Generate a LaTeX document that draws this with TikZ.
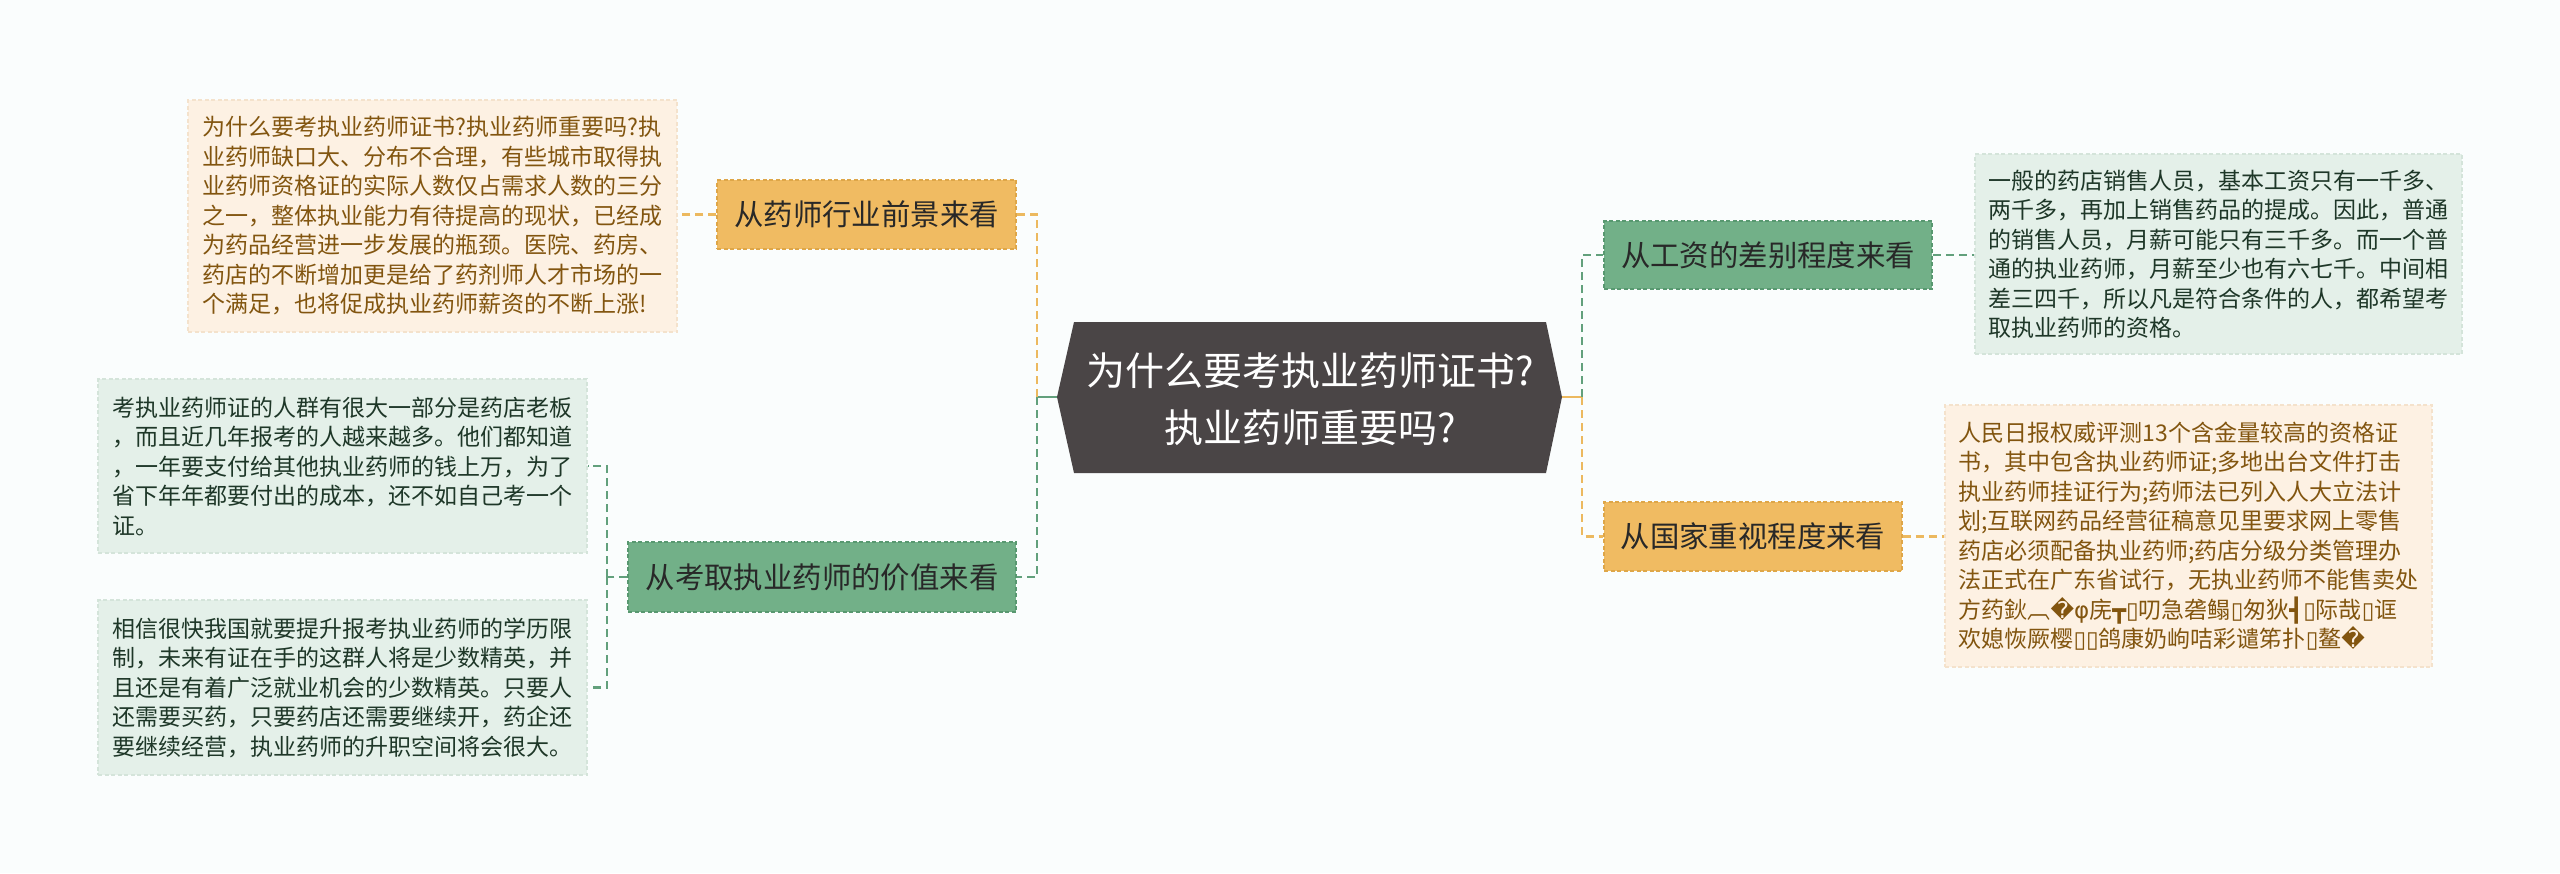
\documentclass[tikz,border=0pt]{standalone}
\usepackage{fontspec}
\newfontfamily\cjk{Noto Sans CJK SC}
\newfontfamily\dvs{DejaVu Sans}
\definecolor{bgc}{RGB}{250,253,253}
\definecolor{centerc}{RGB}{74,69,70}
\definecolor{orfill}{RGB}{240,187,98}
\definecolor{ordraw}{RGB}{222,166,72}
\definecolor{grfill}{RGB}{114,176,136}
\definecolor{grdraw}{RGB}{88,152,112}
\definecolor{orline}{RGB}{236,185,95}
\definecolor{grline}{RGB}{98,160,124}
\definecolor{orleaf}{RGB}{253,241,227}
\definecolor{orleafd}{RGB}{244,226,204}
\definecolor{grleaf}{RGB}{228,240,233}
\definecolor{grleafd}{RGB}{212,228,218}
\definecolor{ortext}{RGB}{130,85,15}
\definecolor{grtext}{RGB}{30,55,40}
\definecolor{brtext}{RGB}{40,40,40}
\begin{document}
\begin{tikzpicture}[x=1pt,y=-1pt,
  branchbox/.style={rectangle, draw, line width=1.5pt, dash pattern=on 4pt off 2.5pt,
    inner sep=0pt, text=brtext, font=\cjk\fontsize{29.4pt}{35pt}\selectfont},
  orbranch/.style={branchbox, fill=orfill, draw=ordraw},
  grbranch/.style={branchbox, fill=grfill, draw=grdraw},
  leafbox/.style={rectangle, draw, line width=1.2pt, dash pattern=on 4pt off 2.5pt,
    inner sep=0pt, align=left, font=\cjk\fontsize{23pt}{29.5pt}\selectfont},
  orleafbox/.style={leafbox, fill=orleaf, draw=orleafd, text=ortext},
  grleafbox/.style={leafbox, fill=grleaf, draw=grleafd, text=grtext},
  olink/.style={draw=orline, line width=2.2pt, dash pattern=on 8pt off 5pt},
  glink/.style={draw=grline, line width=2.2pt, dash pattern=on 8pt off 5pt},
  osolid/.style={draw=orline, line width=2.8pt},
  gsolid/.style={draw=grline, line width=2.8pt}
]
\useasboundingbox (0,0) rectangle (2560,873);
\fill[bgc] (0,0) rectangle (2560,873);

% central topic
\fill[centerc] (1057,397) -- (1074,322) -- (1546,322) -- (1562,397) -- (1546,473) -- (1074,473) -- cycle;
\node[text=white, align=center, font=\cjk\fontsize{39pt}{57pt}\selectfont] (center) at (1310,399)
  {为什么要考执业药师证书?\\执业药师重要吗?};
\coordinate (cL) at (1057,397);
\coordinate (cR) at (1562,397);
\coordinate (sL) at (1037,397);
\coordinate (sR) at (1582,397);

% branches
\node[orbranch, minimum width=299pt, minimum height=69pt] (b1) at (866.5,214.5) {从药师行业前景来看};
\node[grbranch, minimum width=388pt, minimum height=70pt] (b2) at (822,577) {从考取执业药师的价值来看};
\node[grbranch, minimum width=328pt, minimum height=68pt] (b3) at (1768,255) {从工资的差别程度来看};
\node[orbranch, minimum width=298pt, minimum height=69pt] (b4) at (1753,536.5) {从国家重视程度来看};

% leaves
\node[orleafbox, minimum width=489pt, minimum height=232pt] (l1) at (432.5,216) {%
为什么要考执业药师证书?执业药师重要吗?执\\
业药师缺口大、分布不合理，有些城市取得执\\
业药师资格证的实际人数仅占需求人数的三分\\
之一，整体执业能力有待提高的现状，已经成\\
为药品经营进一步发展的瓶颈。医院、药房、\\
药店的不断增加更是给了药剂师人才市场的一\\
个满足，也将促成执业药师薪资的不断上涨!};

\node[grleafbox, minimum width=489pt, minimum height=174pt] (l2) at (342.5,466) {%
考执业药师证的人群有很大一部分是药店老板\\
，而且近几年报考的人越来越多。他们都知道\\
，一年要支付给其他执业药师的钱上万，为了\\
省下年年都要付出的成本，还不如自己考一个\\
证。};

\node[grleafbox, minimum width=489pt, minimum height=175pt] (l3) at (342.5,687.5) {%
相信很快我国就要提升报考执业药师的学历限\\
制，未来有证在手的这群人将是少数精英，并\\
且还是有着广泛就业机会的少数精英。只要人\\
还需要买药，只要药店还需要继续开，药企还\\
要继续经营，执业药师的升职空间将会很大。};

\node[grleafbox, minimum width=487pt, minimum height=200pt] (r1) at (2218.5,254) {%
一般的药店销售人员，基本工资只有一千多、\\
两千多，再加上销售药品的提成。因此，普通\\
的销售人员，月薪可能只有三千多。而一个普\\
通的执业药师，月薪至少也有六七千。中间相\\
差三四千，所以凡是符合条件的人，都希望考\\
取执业药师的资格。};

\node[orleafbox, minimum width=487pt, minimum height=262pt] (r2) at (2188.5,536) {%
人民日报权威评测13个含金量较高的资格证\\
书，其中包含执业药师证;多地出台文件打击\\
执业药师挂证行为;药师法已列入人大立法计\\
划;互联网药品经营征稿意见里要求网上零售\\
药店必须配备执业药师;药店分级分类管理办\\
法正式在广东省试行，无执业药师不能售卖处\\
方药鈥︹{\dvs �φ}庑{\dvs ┳▯}叨急砻鳎{\dvs ▯}匆狄{\dvs ┫▯}际哉{\dvs ▯}诓\\
欢媳恢厥樱{\dvs ▯▯}鸽康奶岣咭彩谴笫扑{\dvs ▯}鳌{\dvs �}};

% connectors: center to branches
\draw[gsolid] (cL) -- (sL);
\draw[olink] (sL) |- (b1.east);
\draw[glink] (sL) |- (b2.east);
\draw[osolid] (cR) -- (sR);
\draw[glink] (sR) |- (b3.west);
\draw[olink] (sR) |- (b4.west);

% branches to leaves
\draw[olink] (b1.west) -- (l1.east |- b1.west);
\coordinate (s2) at (607,577);
\draw[glink] (b2.west) -- (s2);
\draw[glink] (s2) |- (l2.east);
\draw[glink] (s2) |- (l3.east);
\draw[glink] (b3.east) -- (r1.west |- b3.east);
\draw[olink] (b4.east) -- (r2.west |- b4.east);
\end{tikzpicture}
\end{document}
